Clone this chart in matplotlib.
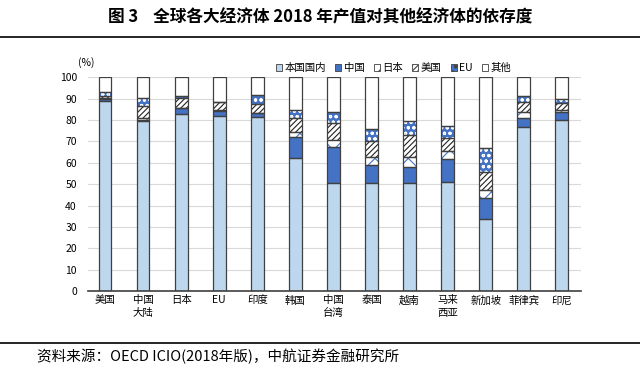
import numpy as np
import matplotlib.pyplot as plt
from matplotlib.patches import Patch

plt.rcParams['font.family'] = ['Noto Sans CJK SC', 'DejaVu Sans']
plt.rcParams['hatch.linewidth'] = 0.8

countries = ['美国', '中国\n大陆', '日本', 'EU', '印度', '韩国', '中国\n台湾',
             '泰国', '越南', '马来\n西亚', '新加坡', '菲律宾', '印尼']
domestic = [88.9, 79.3, 82.7, 82.0, 81.6, 62.4, 50.7, 50.7, 50.7, 51.2, 33.7, 76.6, 80.0]
china = [0.8, 0.5, 3.1, 2.3, 1.5, 9.8, 16.8, 8.3, 7.2, 10.5, 9.7, 4.5, 3.6]
japan = [0.5, 1.2, 0.0, 0.3, 0.3, 2.0, 3.1, 3.9, 5.0, 3.9, 4.0, 2.8, 1.1]
usa = [1.0, 5.5, 4.5, 4.0, 4.2, 6.6, 7.8, 7.3, 10.1, 6.2, 8.4, 4.7, 3.1]
eu = [2.1, 3.7, 1.0, 0.0, 3.9, 3.9, 5.1, 5.5, 6.6, 5.6, 11.1, 2.7, 1.9]
other = [100 - sum(v) for v in zip(domestic, china, japan, usa, eu)]

labels = ['本国国内', '中国', '日本', '美国', 'EU', '其他']
series = [domestic, china, japan, usa, eu, other]
# face colour, hatch, hatch colour
styles = [('#BDD7EE', '', '#BDD7EE'),
          ('#4472C4', '', '#4472C4'),
          ('white', 'xx', '#4472C4'),
          ('white', '//////', '#222222'),
          ('#4472C4', 'ooo', 'white'),
          ('white', '', 'white')]
edge = '#404040'

fig = plt.figure(figsize=(6.4, 3.71), dpi=100)
ax = fig.add_axes([0.1375, 0.215, 0.77, 0.577])

x = np.arange(len(countries))
w = 0.33
bottom = np.zeros(len(countries))
for vals, (fc, ht, hc) in zip(series, styles):
    vals = np.array(vals)
    ax.bar(x, vals, w, bottom=bottom, color=fc, hatch=ht, edgecolor=hc,
           linewidth=0, zorder=2)
    ax.bar(x, vals, w, bottom=bottom, color='none', edgecolor=edge,
           linewidth=0.9, zorder=3)
    bottom += vals

ax.set_xlim(-0.45, 12.5)
ax.set_ylim(0, 100)
ax.set_yticks(range(0, 101, 10))
ax.set_xticks(x)
ax.set_xticklabels(countries, fontsize=7.5, linespacing=1.3)
ax.tick_params(axis='y', labelsize=7.5, length=0, pad=8)
ax.tick_params(axis='x', length=0, pad=3)
ax.grid(axis='y', color='#d9d9d9', linewidth=0.8, zorder=0)
for s in ['left', 'right', 'top']:
    ax.spines[s].set_visible(False)
ax.spines['bottom'].set_color('#404040')
ax.spines['bottom'].set_linewidth(1.2)
ax.spines['bottom'].set_zorder(4)

ax.text(-0.02, 1.045, '(%)', transform=ax.transAxes, fontsize=7.5,
        ha='left', va='bottom')

handles = []
for lab, (fc, ht, hc) in zip(labels, styles):
    handles.append(Patch(facecolor=fc, hatch=ht, edgecolor=edge, linewidth=0.6))
ax.legend(handles, labels, loc='lower center', bbox_to_anchor=(0.62, 1.0),
          ncol=6, frameon=False, fontsize=7.5, handlelength=0.6, handleheight=0.6,
          handletextpad=0.2, columnspacing=0.9, borderaxespad=0)

fig.text(0.5, 0.953, '图 3    全球各大经济体 2018 年产值对其他经济体的依存度',
         ha='center', va='center', fontsize=12, fontweight='bold')
fig.add_artist(plt.Line2D([0, 1], [0.9, 0.9], color='black', linewidth=1.2))
fig.add_artist(plt.Line2D([0, 1], [0.075, 0.075], color='black', linewidth=1.2))
fig.text(0.058, 0.04, '资料来源：OECD ICIO(2018年版)，中航证券金融研究所',
         ha='left', va='center', fontsize=10.5, style='italic')

fig.savefig('out.png', dpi=100)
